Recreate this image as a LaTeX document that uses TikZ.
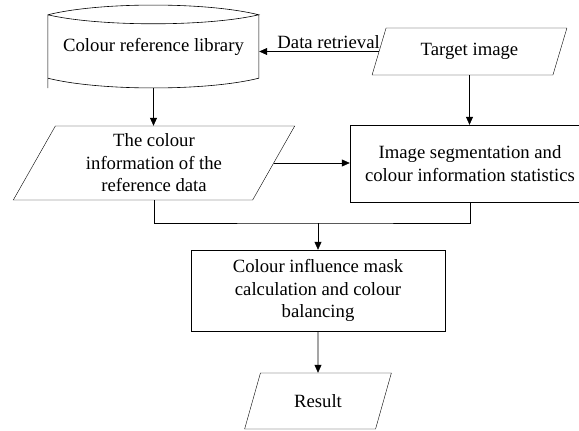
\documentclass[tikz,border=0pt]{standalone}
\usepackage{fontspec}
\setmainfont{Liberation Serif}
\usetikzlibrary{arrows.meta,positioning,shapes.geometric}

\begin{document}
\begin{tikzpicture}[
          x=1pt, y=-1pt,
          font=\fontsize{18.7}{22.5}\selectfont,
          box/.style={draw, align=center, inner sep=0pt},
          data/.style={draw, trapezium, trapezium left angle=63.5, trapezium right angle=116.5, trapezium stretches=true, align=center, inner sep=0pt},
          arr/.style={-{Triangle[length=8pt, width=7pt]}, line width=0.6pt}
        ]
        \useasboundingbox (0,0) rectangle (579,431);
        \clip (0,0) rectangle (579,431);
        \node[minimum width=211pt, minimum height=83pt, inner sep=0pt] (lib) at (153.5,46.5) {Colour reference library};
        % drum outline of the library
        \draw[line width=0.6pt] (lib.north west) ++(0,10) coordinate (tl) .. controls ++(52,-13) and ++(-52,-13) .. ++(211,0) coordinate (tr)
          .. controls ++(-52,12) and ++(52,12) .. (tl) -- (lib.south west) ++(0,-10) coordinate (bl)
          .. controls ++(52,13) and ++(-52,13) .. ++(211,0) -- (tr);
        \node[data, minimum width=195pt, minimum height=47pt] (tgt) at (469.5,51.5) {Target image};
        \node[data, minimum width=282pt, minimum height=74pt] (info) at (154,163) {The colour\\information of the\\reference data};
        \node[box, minimum width=240pt, minimum height=77pt] (seg) at (470,163.5) {Image segmentation and\\colour information statistics};
        \node[box, minimum width=254pt, minimum height=81pt] (mix) at (318,290.5) {Colour influence mask\\calculation and colour\\balancing};
        \node[data, minimum width=147pt, minimum height=56pt] (res) at (318,401) {Result};
        \coordinate (join) at (318,223);
        \draw[arr] (tgt) -- (tgt -| lib.east) node[pos=0.42, above=-1pt] {Data retrieval};
        \draw[arr] (lib.south) -- (lib.south |- info.north);
        \draw[arr] (tgt.south) -- (tgt.south |- seg.north);
        \draw[arr] (info.east) -- (info.east -| seg.west);
        \draw[line width=0.6pt] (info.south) |- (join) -| (seg.south);
        \draw[arr] (join) -- (mix.north);
        \draw[arr] (mix.south) -- (res.north);
      \end{tikzpicture}
\end{document}
